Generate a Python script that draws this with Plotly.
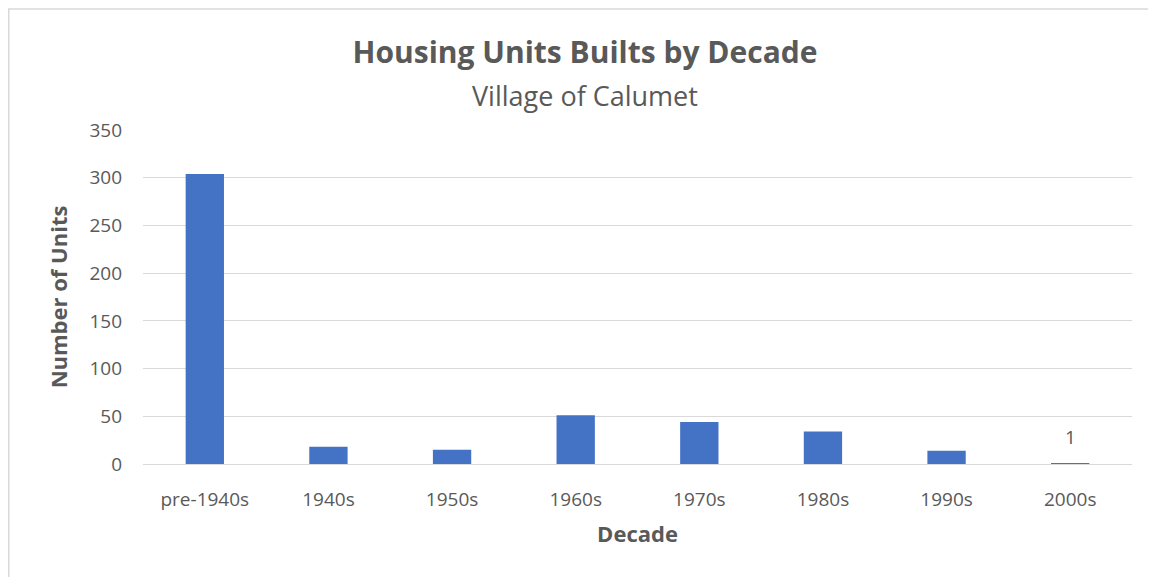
import plotly.graph_objects as go

categories = ["pre-1940s", "1940s", "1950s", "1960s", "1970s", "1980s", "1990s", "2000s"]
units = [304, 18, 15, 51, 44, 34, 14, 1]
labelled = ["2000s"]  # categories carrying a data label

GREY = "#595959"
FONT = "Open Sans"

# The page body has an 8px margin, so the figure is laid out 8px in.
W, H = 1148, 569
L, R, T, B = 135, 24, 121.5, 112.7
PW = W - L - R
PH = H - T - B

fig = go.Figure()
fig.add_trace(go.Bar(
    x=categories, y=units,
    marker=dict(color="#4472C4", line=dict(width=0)),
    width=0.31,
))

label_annotations = [
    dict(x=c, y=v, xref="x", yref="y", text=str(v), showarrow=False,
         yanchor="bottom", yshift=11,
         font=dict(family=FONT, size=19, color=GREY))
    for c, v in zip(categories, units) if c in labelled
]

fig.update_layout(
    width=W, height=H,
    margin=dict(l=L, r=R, t=T, b=B),
    paper_bgcolor="white", plot_bgcolor="white",
    showlegend=False,
    font=dict(family=FONT, color=GREY),
    title=dict(
        text="<b>Housing Units Builts by Decade</b>",
        x=577 / W, xref="container", xanchor="center",
        y=1 - 44 / H, yref="container", yanchor="middle",
        font=dict(family=FONT, size=30, color=GREY),
    ),
    annotations=[dict(
        text="Village of Calumet", xref="paper", yref="paper",
        x=(577 - L) / PW, y=(T + PH - 87) / PH,
        xanchor="center", yanchor="middle", showarrow=False,
        font=dict(family=FONT, size=27, color=GREY),
    )] + label_annotations,
    shapes=[dict(
        type="rect", xref="paper", yref="paper",
        x0=(0.75 - L) / PW, x1=1.2,
        y0=-0.6, y1=(T + PH - 0.25) / PH,
        line=dict(color="#d9d9d9", width=1.5), fillcolor="rgba(0,0,0,0)",
        layer="below",
    )],
)

fig.update_yaxes(
    range=[0, 350], dtick=50, showgrid=True, gridcolor="#d9d9d9", gridwidth=1.3,
    zeroline=True, zerolinecolor="#d9d9d9", zerolinewidth=1.3,
    showline=False, ticks="", ticklabelstandoff=20,
    tickfont=dict(family=FONT, size=19, color=GREY),
    title=dict(text="<b>Number of Units</b>", standoff=15,
               font=dict(family=FONT, size=22, color=GREY)),
)
fig.update_xaxes(
    showgrid=False, showline=True, linecolor="#d9d9d9", linewidth=1.3,
    ticks="", ticklabelstandoff=18,
    tickfont=dict(family=FONT, size=19, color=GREY),
    title=dict(text="<b>Decade</b>", standoff=15,
               font=dict(family=FONT, size=22, color=GREY)),
)

fig.write_html("out.html")
